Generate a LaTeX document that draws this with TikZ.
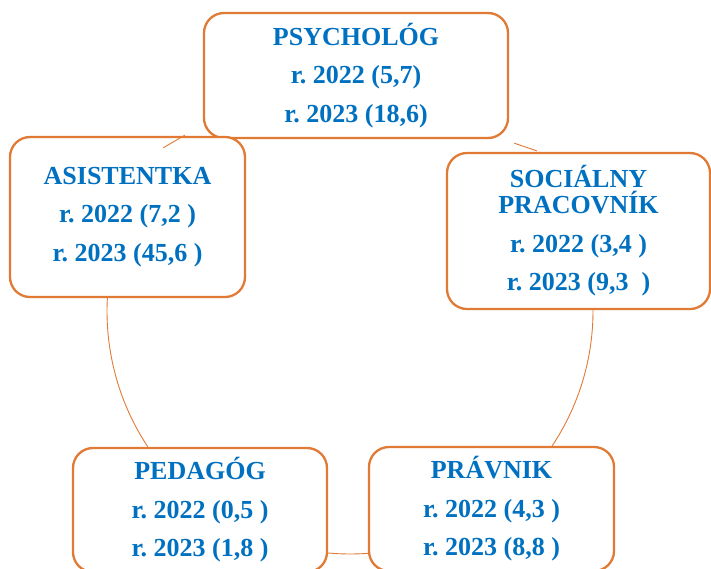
\documentclass[tikz,border=0pt]{standalone}
\usepackage{fontspec}
\setmainfont{Liberation Serif}
\usetikzlibrary{calc}
\frenchspacing
\definecolor{boxline}{HTML}{E07A35}
\definecolor{labelblue}{HTML}{0070C0}
\begin{document}
\begin{tikzpicture}[x=1pt,y=-1pt,
    box/.style={draw=boxline,line width=2.3pt,fill=white,rounded corners=20pt,
      align=center,text=labelblue,inner sep=0pt,
      font=\bfseries\fontsize{26}{38.5}\selectfont},
    link/.style={draw=boxline,line width=0.9pt}]
    \useasboundingbox (0,0) rectangle (711,568);
    \coordinate (cyc) at (350,311);
    \node[box,minimum width=304pt,minimum height=125pt] (psych) at (356,75.5)
        {PSYCHOLÓG\\r. 2022 (5,7)\\r. 2023 (18,6)};
    \node[box,minimum width=235pt,minimum height=160pt] (asis) at (127.5,217)
        {ASISTENTKA\\r. 2022 (7,2 )\\r. 2023 (45,6 )};
    \node[box,minimum width=263pt,minimum height=156pt] (social) at (578.5,231)
        {SOCIÁLNY\\[-12.5pt]PRACOVNÍK\\r. 2022 (3,4 )\\r. 2023 (9,3~~)};
    \node[box,minimum width=254pt,minimum height=124pt] (ped) at (200,510)
        {PEDAGÓG\\r. 2022 (0,5 )\\r. 2023 (1,8 )};
    \node[box,minimum width=245pt,minimum height=124pt] (prav) at (491.5,509)
        {PRÁVNIK\\r. 2022 (4,3 )\\r. 2023 (8,8 )};
    \draw[link] (cyc) ++(183.3:243) arc[start angle=183.3,end angle=146.5,radius=246];
    \draw[link] (cyc) ++(95.4:243) arc[start angle=95.4,end angle=85.5,radius=243];
    \draw[link] (cyc) ++(34:243) arc[start angle=34,end angle=-0.5,radius=243];
    \draw[link] ($(psych.south west)+(-18,-4)$) -- ($(asis.north east)+(-83,12)$);
    \draw[link] ($(psych.south east)+(5,4)$) -- ($(social.north west)+(91,-1)$);
\end{tikzpicture}
\end{document}
